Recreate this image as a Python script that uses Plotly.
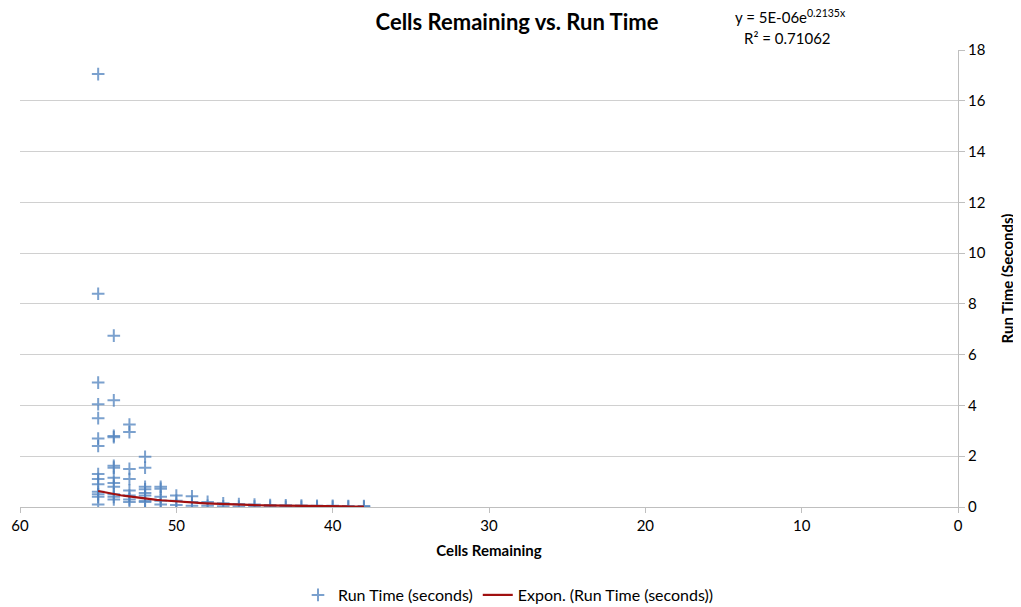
import numpy as np
import plotly.graph_objects as go

# Scatter data: cells remaining (x) and run time in seconds (y)
cells = (
    [55] * 14 + [54] * 12 + [53] * 8 + [52] * 8 + [51] * 5 + [50] * 3 + [49] * 3
    + [48] * 2 + [47] * 2 + [46] * 2 + [45] * 2 + [44] * 2 + [43] * 2 + [42] * 2
    + [41] * 2 + [40] * 2 + [39] * 2 + [38] * 2
)
run_time = (
    [17.05, 8.4, 4.9, 4.05, 3.5, 2.7, 2.4, 1.3, 1.1, 0.9, 0.6, 0.5, 0.4, 0.1]
    + [6.75, 4.2, 2.8, 2.75, 1.62, 1.55, 1.15, 0.95, 0.8, 0.5, 0.4, 0.3]
    + [3.25, 2.95, 1.5, 1.1, 0.65, 0.45, 0.3, 0.2]
    + [1.98, 1.55, 0.8, 0.7, 0.55, 0.45, 0.25, 0.2]
    + [0.8, 0.72, 0.4, 0.25, 0.1]
    + [0.45, 0.25, 0.08]
    + [0.42, 0.2, 0.05]
    + [0.2, 0.05]
    + [0.15, 0.03]
    + [0.12, 0.02]
    + [0.1, 0.02]
    + [0.08, 0.02]
    + [0.07, 0.01]
    + [0.06, 0.01]
    + [0.05, 0.01]
    + [0.05, 0.01]
    + [0.04, 0.01]
    + [0.04, 0.01]
)

# Exponential trendline coefficients (from the chart label)
fit_a = 5e-06
fit_b = 0.2135
fit_r2 = 0.71062
fit_x = np.linspace(max(cells), min(cells), 60)
fit_y = fit_a * np.exp(fit_b * fit_x)

FONT = "Lato"
# page body has an 8px margin, so the figure is drawn offset by (8, 8)
OFF = 8
W, H = 1021 - OFF, 607 - OFF
ML, MR, MT, MB = 20 - OFF, 63, 50 - OFF, 100
plot_w = W - ML - MR
plot_h = H - MT - MB


def px_x(px):
    return (px - OFF - ML) / plot_w


def px_y(py):
    return (H - MB - (py - OFF)) / plot_h


fig = go.Figure()
fig.add_trace(go.Scatter(
    x=cells, y=run_time, mode="markers", name="Run Time (seconds)",
    marker=dict(symbol="cross-thin", size=9, color="rgba(79,129,189,0.8)",
                line=dict(width=2, color="rgba(79,129,189,0.75)")),
))
fig.add_trace(go.Scatter(
    x=fit_x, y=fit_y, mode="lines", name="Expon. (Run Time (seconds))",
    line=dict(color="#A01010", width=2.2),
))

fig.update_layout(
    width=W, height=H,
    paper_bgcolor="white", plot_bgcolor="white",
    margin=dict(l=ML, r=MR, t=MT, b=MB, autoexpand=False),
    font=dict(family=FONT, size=15, color="#000"),
    title=dict(text="<b>Cells Remaining vs. Run Time</b>", x=(517 - OFF) / W,
               xanchor="center", y=1 - (22 - OFF) / H, yanchor="middle",
               font=dict(size=22, family=FONT)),
    showlegend=True,
    legend=dict(orientation="h", x=px_x(298), xanchor="left", yref="container",
                y=1 - (595 - OFF) / H, yanchor="middle",
                font=dict(size=16, family=FONT), itemwidth=30, traceorder="normal"),
    xaxis=dict(
        range=[60, 0], dtick=10, showgrid=False, zeroline=False, automargin=False,
        showline=True, linecolor="#BFBFBF", linewidth=1,
        ticks="outside", tickcolor="#BFBFBF", ticklen=5,
        tickfont=dict(size=15),
        title=dict(text="<b>Cells Remaining</b>", font=dict(size=15), standoff=12),
    ),
    yaxis=dict(
        side="right", range=[0, 18], dtick=2, showgrid=True, gridcolor="#D0D0D0",
        gridwidth=1, zeroline=False, showline=True, linecolor="#BFBFBF", linewidth=1,
        automargin=False,
        ticks="outside", tickcolor="#BFBFBF", ticklen=6,
        tickfont=dict(size=15),
        title=dict(text="<b>Run Time (Seconds)</b>", font=dict(size=15), standoff=17),
    ),
)

for text, (px, py) in [("y = 5E-06e<sup>0.2135x</sup>", (790, 16)),
                       (f"R² = {fit_r2}", (787, 38))]:
    fig.add_annotation(text=text, xref="paper", yref="paper",
                       x=px_x(px), y=px_y(py),
                       xanchor="center", yanchor="middle", showarrow=False,
                       font=dict(size=15, family=FONT))

fig.write_html("out.html")
